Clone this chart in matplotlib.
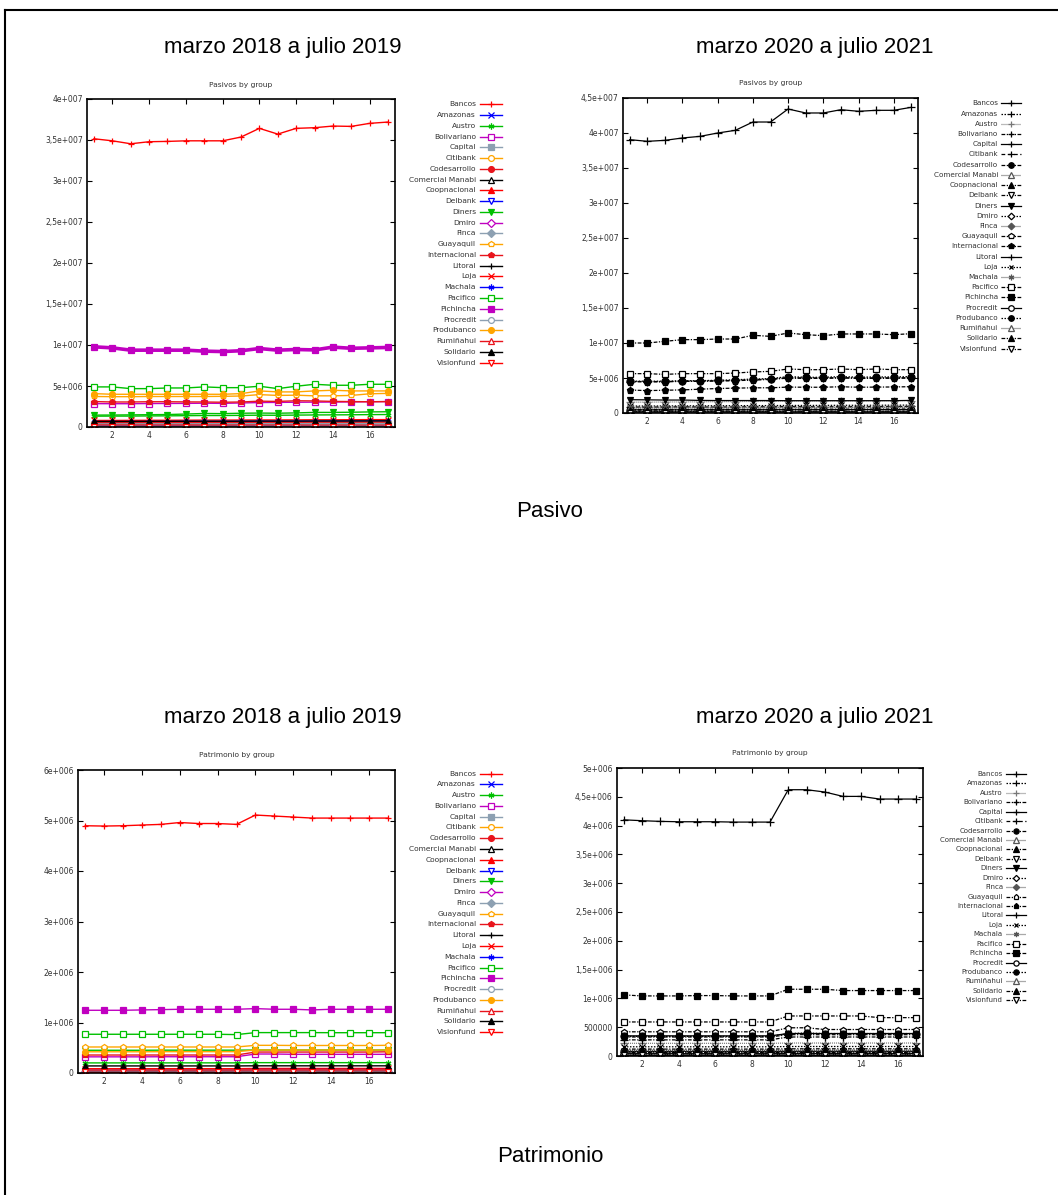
import matplotlib
matplotlib.use("Agg")
import matplotlib.pyplot as plt
from matplotlib.lines import Line2D

W, H = 1058, 1195
x = list(range(1, 18))

banks = ["Bancos", "Amazonas", "Austro", "Bolivariano", "Capital", "Citibank",
         "Codesarrollo", "Comercial Manabi", "Coopnacional", "Delbank", "Diners",
         "Dmiro", "Finca", "Guayaquil", "Internacional", "Litoral", "Loja",
         "Machala", "Pacifico", "Pichincha", "Procredit", "Produbanco",
         "Rumiñahui", "Solidario", "Visionfund"]

# ---- Pasivos, marzo 2018 a julio 2019 (millions) ----
pas18 = [
    [35.15, 34.90, 34.54, 34.79, 34.83, 34.90, 34.90, 34.90, 35.36, 36.42, 35.72, 36.42, 36.50, 36.70, 36.66, 37.03, 37.19],  # Bancos
    [0.17, 0.17, 0.17, 0.17, 0.18, 0.18, 0.18, 0.18, 0.18, 0.19, 0.19, 0.19, 0.19, 0.19, 0.20, 0.20, 0.20],  # Amazonas
    [1.32, 1.33, 1.33, 1.35, 1.36, 1.38, 1.40, 1.40, 1.42, 1.44, 1.43, 1.45, 1.47, 1.48, 1.49, 1.51, 1.52],  # Austro
    [2.85, 2.84, 2.84, 2.86, 2.87, 2.88, 2.90, 2.88, 2.93, 2.98, 3.00, 3.02, 3.03, 3.04, 3.06, 3.08, 3.10],  # Bolivariano
    [0.28, 0.28, 0.28, 0.28, 0.29, 0.29, 0.29, 0.29, 0.30, 0.30, 0.30, 0.31, 0.31, 0.31, 0.31, 0.32, 0.32],  # Capital
    [0.46, 0.45, 0.44, 0.45, 0.45, 0.46, 0.46, 0.45, 0.46, 0.47, 0.46, 0.47, 0.47, 0.48, 0.48, 0.48, 0.49],  # Citibank
    [0.12, 0.12, 0.12, 0.12, 0.12, 0.13, 0.13, 0.13, 0.13, 0.13, 0.13, 0.14, 0.14, 0.14, 0.14, 0.14, 0.14],  # Codesarrollo
    [0.05, 0.05, 0.05, 0.05, 0.05, 0.05, 0.05, 0.05, 0.05, 0.05, 0.05, 0.05, 0.05, 0.05, 0.05, 0.05, 0.05],  # Comercial Manabi
    [0.35, 0.35, 0.35, 0.36, 0.36, 0.36, 0.37, 0.37, 0.37, 0.38, 0.38, 0.38, 0.39, 0.39, 0.39, 0.40, 0.40],  # Coopnacional
    [0.04, 0.04, 0.04, 0.04, 0.04, 0.04, 0.04, 0.04, 0.04, 0.04, 0.04, 0.04, 0.04, 0.04, 0.04, 0.04, 0.04],  # Delbank
    [1.45, 1.46, 1.48, 1.50, 1.52, 1.58, 1.65, 1.63, 1.68, 1.70, 1.68, 1.72, 1.78, 1.78, 1.80, 1.84, 1.86],  # Diners
    [0.02, 0.02, 0.02, 0.02, 0.02, 0.02, 0.02, 0.02, 0.02, 0.02, 0.02, 0.02, 0.02, 0.02, 0.02, 0.02, 0.02],  # Dmiro
    [0.06, 0.06, 0.06, 0.06, 0.06, 0.06, 0.06, 0.06, 0.07, 0.07, 0.07, 0.07, 0.07, 0.07, 0.07, 0.07, 0.07],  # Finca
    [3.72, 3.70, 3.70, 3.72, 3.72, 3.72, 3.72, 3.74, 3.78, 3.95, 3.85, 3.88, 3.80, 3.80, 3.85, 4.05, 4.10],  # Guayaquil
    [3.10, 3.05, 3.05, 3.08, 3.08, 3.06, 3.05, 3.02, 3.05, 3.15, 3.12, 3.20, 3.18, 3.12, 3.10, 3.08, 3.10],  # Internacional
    [0.03, 0.03, 0.03, 0.03, 0.03, 0.03, 0.03, 0.03, 0.03, 0.03, 0.03, 0.03, 0.03, 0.03, 0.03, 0.03, 0.03],  # Litoral
    [0.80, 0.80, 0.81, 0.82, 0.82, 0.83, 0.84, 0.84, 0.85, 0.86, 0.86, 0.87, 0.88, 0.88, 0.89, 0.90, 0.90],  # Loja
    [0.66, 0.66, 0.66, 0.67, 0.67, 0.68, 0.68, 0.68, 0.69, 0.70, 0.70, 0.71, 0.71, 0.72, 0.72, 0.73, 0.73],  # Machala
    [4.89, 4.89, 4.68, 4.68, 4.76, 4.76, 4.89, 4.80, 4.80, 4.97, 4.68, 4.97, 5.21, 5.09, 5.09, 5.21, 5.21],  # Pacifico
    [9.78, 9.65, 9.37, 9.37, 9.37, 9.37, 9.25, 9.20, 9.30, 9.57, 9.37, 9.45, 9.40, 9.74, 9.60, 9.65, 9.70],  # Pichincha
    [0.42, 0.42, 0.42, 0.42, 0.42, 0.43, 0.43, 0.43, 0.43, 0.44, 0.44, 0.44, 0.44, 0.45, 0.45, 0.45, 0.45],  # Procredit
    [4.07, 3.99, 3.99, 3.99, 3.99, 3.99, 3.99, 3.99, 4.07, 4.40, 4.28, 4.28, 4.40, 4.48, 4.40, 4.40, 4.40],  # Produbanco
    [0.55, 0.55, 0.55, 0.56, 0.56, 0.56, 0.57, 0.57, 0.57, 0.58, 0.58, 0.58, 0.59, 0.59, 0.59, 0.60, 0.60],  # Rumiñahui
    [0.68, 0.68, 0.68, 0.69, 0.69, 0.70, 0.70, 0.70, 0.71, 0.72, 0.72, 0.72, 0.73, 0.73, 0.74, 0.74, 0.75],  # Solidario
    [0.03, 0.03, 0.03, 0.03, 0.03, 0.03, 0.03, 0.03, 0.03, 0.03, 0.03, 0.03, 0.03, 0.03, 0.03, 0.03, 0.03],  # Visionfund
]

# ---- Pasivos, marzo 2020 a julio 2021 (millions) ----
pas20 = [
    [39.05, 38.81, 38.95, 39.29, 39.52, 40.00, 40.38, 41.57, 41.57, 43.43, 42.86, 42.86, 43.33, 43.10, 43.24, 43.24, 43.67],  # Bancos
    [0.21, 0.21, 0.21, 0.22, 0.22, 0.22, 0.22, 0.23, 0.23, 0.23, 0.23, 0.24, 0.24, 0.24, 0.24, 0.25, 0.25],  # Amazonas
    [1.55, 1.55, 1.57, 1.58, 1.60, 1.62, 1.63, 1.65, 1.66, 1.70, 1.70, 1.71, 1.72, 1.72, 1.74, 1.75, 1.77],  # Austro
    [4.50, 4.48, 4.48, 4.55, 4.56, 4.60, 4.65, 4.75, 4.85, 5.05, 5.00, 5.00, 5.05, 5.00, 5.02, 5.02, 5.05],  # Bolivariano
    [0.15, 0.15, 0.15, 0.15, 0.15, 0.16, 0.16, 0.16, 0.16, 0.16, 0.17, 0.17, 0.17, 0.17, 0.17, 0.17, 0.17],  # Capital
    [0.85, 0.84, 0.86, 0.88, 0.86, 0.85, 0.87, 0.90, 0.88, 0.92, 0.90, 0.89, 0.91, 0.90, 0.92, 0.93, 0.94],  # Citibank
    [0.15, 0.15, 0.15, 0.15, 0.15, 0.15, 0.15, 0.16, 0.16, 0.16, 0.16, 0.16, 0.16, 0.16, 0.16, 0.16, 0.16],  # Codesarrollo
    [0.06, 0.06, 0.06, 0.06, 0.06, 0.06, 0.06, 0.06, 0.06, 0.06, 0.06, 0.06, 0.06, 0.06, 0.06, 0.06, 0.06],  # Comercial Manabi
    [0.42, 0.42, 0.42, 0.43, 0.43, 0.43, 0.44, 0.44, 0.44, 0.45, 0.45, 0.45, 0.45, 0.46, 0.46, 0.46, 0.46],  # Coopnacional
    [0.04, 0.04, 0.04, 0.04, 0.04, 0.04, 0.04, 0.04, 0.04, 0.04, 0.04, 0.04, 0.04, 0.04, 0.04, 0.04, 0.04],  # Delbank
    [1.90, 1.88, 1.85, 1.85, 1.80, 1.78, 1.78, 1.78, 1.78, 1.76, 1.76, 1.76, 1.76, 1.76, 1.76, 1.76, 1.80],  # Diners
    [0.03, 0.03, 0.03, 0.03, 0.03, 0.03, 0.03, 0.03, 0.03, 0.03, 0.03, 0.03, 0.03, 0.03, 0.03, 0.03, 0.03],  # Dmiro
    [0.07, 0.07, 0.07, 0.07, 0.07, 0.07, 0.07, 0.07, 0.07, 0.08, 0.08, 0.08, 0.08, 0.08, 0.08, 0.08, 0.08],  # Finca
    [4.48, 4.46, 4.46, 4.52, 4.52, 4.58, 4.62, 4.70, 4.80, 4.98, 4.95, 4.95, 5.00, 4.95, 4.95, 4.96, 4.98],  # Guayaquil
    [3.28, 3.20, 3.25, 3.30, 3.40, 3.50, 3.55, 3.60, 3.60, 3.70, 3.68, 3.68, 3.75, 3.68, 3.70, 3.72, 3.76],  # Internacional
    [0.04, 0.04, 0.04, 0.04, 0.04, 0.04, 0.04, 0.04, 0.04, 0.04, 0.04, 0.04, 0.04, 0.04, 0.04, 0.04, 0.04],  # Litoral
    [1.00, 1.00, 1.01, 1.02, 1.03, 1.04, 1.05, 1.06, 1.06, 1.08, 1.08, 1.09, 1.10, 1.10, 1.11, 1.12, 1.13],  # Loja
    [0.80, 0.80, 0.80, 0.81, 0.81, 0.82, 0.82, 0.83, 0.83, 0.84, 0.84, 0.85, 0.85, 0.86, 0.86, 0.87, 0.87],  # Machala
    [5.62, 5.62, 5.52, 5.62, 5.62, 5.62, 5.71, 5.86, 5.95, 6.29, 6.19, 6.19, 6.29, 6.19, 6.29, 6.19, 6.19],  # Pacifico
    [10.00, 10.00, 10.24, 10.48, 10.48, 10.57, 10.57, 11.10, 10.95, 11.43, 11.19, 11.05, 11.29, 11.29, 11.29, 11.19, 11.33],  # Pichincha
    [0.45, 0.45, 0.45, 0.45, 0.46, 0.46, 0.46, 0.46, 0.47, 0.47, 0.47, 0.47, 0.48, 0.48, 0.48, 0.48, 0.49],  # Procredit
    [4.55, 4.55, 4.55, 4.60, 4.62, 4.68, 4.75, 4.85, 4.92, 5.20, 5.10, 5.10, 5.20, 5.12, 5.15, 5.15, 5.20],  # Produbanco
    [0.70, 0.70, 0.70, 0.71, 0.71, 0.72, 0.72, 0.73, 0.73, 0.74, 0.74, 0.75, 0.75, 0.76, 0.76, 0.77, 0.77],  # Rumiñahui
    [0.50, 0.50, 0.50, 0.51, 0.51, 0.52, 0.52, 0.53, 0.53, 0.54, 0.54, 0.55, 0.55, 0.56, 0.56, 0.57, 0.57],  # Solidario
    [0.03, 0.03, 0.03, 0.03, 0.03, 0.03, 0.03, 0.03, 0.03, 0.03, 0.03, 0.03, 0.03, 0.03, 0.03, 0.03, 0.03],  # Visionfund
]

# ---- Patrimonio, marzo 2018 a julio 2019 (millions) ----
pat18 = [
    [4.896, 4.890, 4.896, 4.910, 4.923, 4.960, 4.940, 4.940, 4.923, 5.108, 5.088, 5.068, 5.048, 5.048, 5.048, 5.048, 5.048],  # Bancos
    [0.030, 0.030, 0.030, 0.030, 0.030, 0.030, 0.030, 0.030, 0.030, 0.031, 0.031, 0.031, 0.031, 0.031, 0.031, 0.031, 0.031],  # Amazonas
    [0.200, 0.200, 0.200, 0.200, 0.200, 0.201, 0.201, 0.201, 0.201, 0.205, 0.205, 0.205, 0.205, 0.205, 0.205, 0.205, 0.205],  # Austro
    [0.320, 0.320, 0.320, 0.320, 0.322, 0.322, 0.322, 0.322, 0.322, 0.376, 0.376, 0.370, 0.370, 0.370, 0.370, 0.370, 0.370],  # Bolivariano
    [0.030, 0.030, 0.030, 0.030, 0.030, 0.030, 0.030, 0.030, 0.030, 0.032, 0.032, 0.032, 0.032, 0.032, 0.032, 0.032, 0.032],  # Capital
    [0.050, 0.050, 0.050, 0.050, 0.050, 0.050, 0.050, 0.050, 0.050, 0.052, 0.052, 0.052, 0.052, 0.052, 0.052, 0.052, 0.052],  # Citibank
    [0.020, 0.020, 0.020, 0.020, 0.020, 0.020, 0.020, 0.020, 0.020, 0.020, 0.020, 0.020, 0.020, 0.020, 0.020, 0.020, 0.020],  # Codesarrollo
    [0.015, 0.015, 0.015, 0.015, 0.015, 0.015, 0.015, 0.015, 0.015, 0.015, 0.015, 0.015, 0.015, 0.015, 0.015, 0.015, 0.015],  # Comercial Manabi
    [0.045, 0.045, 0.045, 0.045, 0.045, 0.045, 0.045, 0.045, 0.045, 0.047, 0.047, 0.047, 0.047, 0.047, 0.047, 0.047, 0.047],  # Coopnacional
    [0.012, 0.012, 0.012, 0.012, 0.012, 0.012, 0.012, 0.012, 0.012, 0.012, 0.012, 0.012, 0.012, 0.012, 0.012, 0.012, 0.012],  # Delbank
    [0.450, 0.450, 0.450, 0.450, 0.452, 0.452, 0.452, 0.452, 0.452, 0.455, 0.455, 0.455, 0.455, 0.455, 0.455, 0.455, 0.455],  # Diners
    [0.010, 0.010, 0.010, 0.010, 0.010, 0.010, 0.010, 0.010, 0.010, 0.010, 0.010, 0.010, 0.010, 0.010, 0.010, 0.010, 0.010],  # Dmiro
    [0.020, 0.020, 0.020, 0.020, 0.020, 0.020, 0.020, 0.020, 0.020, 0.021, 0.021, 0.021, 0.021, 0.021, 0.021, 0.021, 0.021],  # Finca
    [0.515, 0.515, 0.515, 0.515, 0.515, 0.515, 0.515, 0.515, 0.515, 0.548, 0.548, 0.545, 0.545, 0.545, 0.545, 0.545, 0.548],  # Guayaquil
    [0.356, 0.356, 0.356, 0.356, 0.356, 0.356, 0.356, 0.356, 0.356, 0.415, 0.415, 0.415, 0.415, 0.415, 0.415, 0.415, 0.420],  # Internacional
    [0.015, 0.015, 0.015, 0.015, 0.015, 0.015, 0.015, 0.015, 0.015, 0.015, 0.015, 0.015, 0.015, 0.015, 0.015, 0.015, 0.015],  # Litoral
    [0.085, 0.085, 0.085, 0.085, 0.085, 0.085, 0.085, 0.085, 0.085, 0.090, 0.090, 0.090, 0.090, 0.090, 0.090, 0.090, 0.090],  # Loja
    [0.065, 0.065, 0.065, 0.065, 0.065, 0.065, 0.065, 0.065, 0.065, 0.068, 0.068, 0.068, 0.068, 0.068, 0.068, 0.068, 0.068],  # Machala
    [0.767, 0.767, 0.767, 0.767, 0.767, 0.767, 0.767, 0.767, 0.760, 0.800, 0.800, 0.800, 0.800, 0.798, 0.798, 0.798, 0.798],  # Pacifico
    [1.242, 1.242, 1.242, 1.249, 1.255, 1.262, 1.262, 1.262, 1.262, 1.275, 1.262, 1.262, 1.249, 1.262, 1.262, 1.262, 1.262],  # Pichincha
    [0.060, 0.060, 0.060, 0.060, 0.060, 0.060, 0.060, 0.060, 0.060, 0.062, 0.062, 0.062, 0.062, 0.062, 0.062, 0.062, 0.062],  # Procredit
    [0.420, 0.420, 0.420, 0.420, 0.422, 0.422, 0.422, 0.422, 0.422, 0.455, 0.455, 0.455, 0.455, 0.455, 0.455, 0.455, 0.455],  # Produbanco
    [0.060, 0.060, 0.060, 0.060, 0.060, 0.060, 0.060, 0.060, 0.060, 0.062, 0.062, 0.062, 0.062, 0.062, 0.062, 0.062, 0.062],  # Rumiñahui
    [0.140, 0.140, 0.140, 0.140, 0.140, 0.140, 0.140, 0.140, 0.140, 0.142, 0.142, 0.142, 0.142, 0.142, 0.142, 0.142, 0.142],  # Solidario
    [0.010, 0.010, 0.010, 0.010, 0.010, 0.010, 0.010, 0.010, 0.010, 0.010, 0.010, 0.010, 0.010, 0.010, 0.010, 0.010, 0.010],  # Visionfund
]

# ---- Patrimonio, marzo 2020 a julio 2021 (millions) ----
pat20 = [
    [4.100, 4.085, 4.073, 4.067, 4.067, 4.067, 4.061, 4.061, 4.061, 4.623, 4.623, 4.583, 4.507, 4.507, 4.461, 4.461, 4.461],  # Bancos
    [0.035, 0.035, 0.035, 0.035, 0.035, 0.035, 0.035, 0.035, 0.035, 0.036, 0.036, 0.036, 0.036, 0.036, 0.036, 0.036, 0.036],  # Amazonas
    [0.220, 0.220, 0.220, 0.220, 0.220, 0.220, 0.220, 0.220, 0.220, 0.225, 0.225, 0.225, 0.225, 0.225, 0.225, 0.225, 0.225],  # Austro
    [0.280, 0.280, 0.280, 0.280, 0.280, 0.280, 0.280, 0.280, 0.280, 0.330, 0.330, 0.330, 0.330, 0.330, 0.330, 0.330, 0.330],  # Bolivariano
    [0.040, 0.040, 0.040, 0.040, 0.040, 0.040, 0.040, 0.040, 0.040, 0.041, 0.041, 0.041, 0.041, 0.041, 0.041, 0.041, 0.041],  # Capital
    [0.070, 0.070, 0.070, 0.070, 0.070, 0.070, 0.070, 0.070, 0.070, 0.072, 0.072, 0.072, 0.072, 0.072, 0.072, 0.072, 0.072],  # Citibank
    [0.030, 0.030, 0.030, 0.030, 0.030, 0.030, 0.030, 0.030, 0.030, 0.030, 0.030, 0.030, 0.030, 0.030, 0.030, 0.030, 0.030],  # Codesarrollo
    [0.015, 0.015, 0.015, 0.015, 0.015, 0.015, 0.015, 0.015, 0.015, 0.015, 0.015, 0.015, 0.015, 0.015, 0.015, 0.015, 0.015],  # Comercial Manabi
    [0.060, 0.060, 0.060, 0.060, 0.060, 0.060, 0.060, 0.060, 0.060, 0.062, 0.062, 0.062, 0.062, 0.062, 0.062, 0.062, 0.062],  # Coopnacional
    [0.012, 0.012, 0.012, 0.012, 0.012, 0.012, 0.012, 0.012, 0.012, 0.012, 0.012, 0.012, 0.012, 0.012, 0.012, 0.012, 0.012],  # Delbank
    [0.350, 0.350, 0.350, 0.350, 0.350, 0.350, 0.350, 0.350, 0.350, 0.390, 0.390, 0.390, 0.390, 0.390, 0.390, 0.390, 0.390],  # Diners
    [0.010, 0.010, 0.010, 0.010, 0.010, 0.010, 0.010, 0.010, 0.010, 0.010, 0.010, 0.010, 0.010, 0.010, 0.010, 0.010, 0.010],  # Dmiro
    [0.025, 0.025, 0.025, 0.025, 0.025, 0.025, 0.025, 0.025, 0.025, 0.026, 0.026, 0.026, 0.026, 0.026, 0.026, 0.026, 0.026],  # Finca
    [0.420, 0.420, 0.420, 0.420, 0.420, 0.420, 0.420, 0.420, 0.420, 0.490, 0.490, 0.460, 0.460, 0.460, 0.460, 0.460, 0.460],  # Guayaquil
    [0.330, 0.330, 0.330, 0.330, 0.330, 0.330, 0.330, 0.330, 0.330, 0.370, 0.370, 0.370, 0.370, 0.370, 0.370, 0.370, 0.370],  # Internacional
    [0.020, 0.020, 0.020, 0.020, 0.020, 0.020, 0.020, 0.020, 0.020, 0.020, 0.020, 0.020, 0.020, 0.020, 0.020, 0.020, 0.020],  # Litoral
    [0.160, 0.160, 0.160, 0.160, 0.160, 0.160, 0.160, 0.160, 0.160, 0.165, 0.165, 0.165, 0.165, 0.165, 0.165, 0.165, 0.165],  # Loja
    [0.100, 0.100, 0.100, 0.100, 0.100, 0.100, 0.100, 0.100, 0.100, 0.102, 0.102, 0.102, 0.102, 0.102, 0.102, 0.102, 0.102],  # Machala
    [0.591, 0.591, 0.591, 0.591, 0.591, 0.591, 0.591, 0.591, 0.591, 0.695, 0.695, 0.695, 0.695, 0.695, 0.666, 0.666, 0.666],  # Pacifico
    [1.060, 1.043, 1.043, 1.043, 1.049, 1.049, 1.043, 1.043, 1.043, 1.159, 1.159, 1.159, 1.136, 1.136, 1.136, 1.136, 1.136],  # Pichincha
    [0.080, 0.080, 0.080, 0.080, 0.080, 0.080, 0.080, 0.080, 0.080, 0.082, 0.082, 0.082, 0.082, 0.082, 0.082, 0.082, 0.082],  # Procredit
    [0.340, 0.340, 0.340, 0.340, 0.340, 0.340, 0.340, 0.340, 0.340, 0.390, 0.400, 0.390, 0.390, 0.390, 0.390, 0.390, 0.390],  # Produbanco
    [0.090, 0.090, 0.090, 0.090, 0.090, 0.090, 0.090, 0.090, 0.090, 0.092, 0.092, 0.092, 0.092, 0.092, 0.092, 0.092, 0.092],  # Rumiñahui
    [0.120, 0.120, 0.120, 0.120, 0.120, 0.120, 0.120, 0.120, 0.120, 0.125, 0.125, 0.125, 0.125, 0.125, 0.125, 0.125, 0.125],  # Solidario
    [0.010, 0.010, 0.010, 0.010, 0.010, 0.010, 0.010, 0.010, 0.010, 0.010, 0.010, 0.010, 0.010, 0.010, 0.010, 0.010, 0.010],  # Visionfund
]

# tick labels
pas18_ticks = ["0", "5e+006", "1e+007", "1,5e+007", "2e+007", "2,5e+007", "3e+007", "3,5e+007", "4e+007"]
pas20_ticks = ["0", "5e+006", "1e+007", "1,5e+007", "2e+007", "2,5e+007", "3e+007", "3,5e+007", "4e+007", "4,5e+007"]
pat18_ticks = ["0", "1e+006", "2e+006", "3e+006", "4e+006", "5e+006", "6e+006"]
pat20_ticks = ["0", "500000", "1e+006", "1,5e+006", "2e+006", "2,5e+006", "3e+006", "3,5e+006", "4e+006", "4,5e+006", "5e+006"]
x_ticks = [2, 4, 6, 8, 10, 12, 14, 16]

# ---------------- styles ----------------
col_cycle = ["#ff0000", "#0000ff", "#00c000", "#c000c0", "#8da0b2", "#ffa500", "#e8141c", "#000000"]
ast = (6, 2, 0)
mk_cycle = ["+", "x", ast, "s", "s", "o", "o", "^", "^", "v", "v", "D", "D", "p", "p",
            "+", "x", ast, "s", "s", "o", "o", "^", "^", "v"]
fill_cycle = [True, True, True, False, True, False, True, False, True, False, True, False, True, False, True,
              True, True, True, False, True, False, True, False, True, False]

mono_mk = ["+", "+", "+", "+", "+", "+", "o", "^", "^", "v", "v", "D", "D", "p", "p",
           "+", "x", ast, "s", "s", "o", "o", "^", "^", "v"]
mono_fill = [True, True, True, True, True, True, True, False, True, False, True, False, True, False, True,
             True, True, True, False, True, False, True, False, True, False]
SOL = "-"
DOT = (0, (1.2, 1.2))
FDOT = (0, (0.8, 0.8))
DDOT = (0, (3, 1.2, 1, 1.2))
DASH = (0, (3, 2))
mono_ls = [SOL, DOT, FDOT, DDOT, SOL, DASH, DDOT, FDOT, DDOT, DDOT, SOL, DOT, FDOT, DDOT, DDOT,
           SOL, DOT, FDOT, DDOT, DDOT, SOL, DOT, FDOT, DDOT, DDOT]
mono_col = ["#000000", "#000000", "#777777", "#000000", "#000000", "#000000", "#000000", "#555555",
            "#000000", "#000000", "#000000", "#000000", "#555555", "#000000", "#000000",
            "#000000", "#000000", "#555555", "#000000", "#000000", "#000000", "#000000", "#555555",
            "#000000", "#000000"]


def color_style(i, scale=1.0):
    c = col_cycle[i % 8]
    fc = c if fill_cycle[i] else "white"
    ms = 4.2 if mk_cycle[i] not in ("D",) else 3.6
    return dict(color=c, ls="-", lw=1.0, marker=mk_cycle[i], ms=ms * scale, mfc=fc, mec=c, mew=0.9)


def mono_style(i, scale=1.0):
    c = mono_col[i]
    fc = c if mono_fill[i] else "white"
    ms = 5.0 if mono_mk[i] not in ("D", "+", "x") else 4.2
    if mono_mk[i] == "+":
        ms = 5.5
    return dict(color=c, ls=mono_ls[i], lw=0.9, marker=mono_mk[i], ms=ms * scale, mfc=fc, mec=c, mew=0.9)


plt.rcParams["font.family"] = ["DejaVu Sans"]
fig = plt.figure(figsize=(W / 100, H / 100), dpi=100)


def fx(px):
    return px / W


def fy(py):
    return 1 - py / H


def make_axes(left, right, top, bottom):
    return fig.add_axes([fx(left), fy(bottom), fx(right - left), (bottom - top) / H])


def setup(ax, title, ymax, ystep, ylabels):
    ax.set_xlim(0.62, 17.38)
    ax.set_ylim(0, ymax)
    ax.set_xticks(x_ticks)
    ax.set_yticks([k * ystep for k in range(len(ylabels))])
    ax.set_yticklabels(ylabels)
    ax.tick_params(direction="in", top=True, right=True, length=3.5, width=0.8,
                   labelsize=5.5, labelcolor="#333333", pad=3)
    for s in ax.spines.values():
        s.set_linewidth(1.2)
    ax.set_title(title, fontsize=5.4, color="#333333", pad=9)


def draw_panel(ax, data, style_fn, wide_idx=None):
    for i, name in enumerate(banks):
        st = style_fn(i)
        if wide_idx is not None and i == wide_idx:
            st["lw"] = 2.6
        ax.plot(x, [v * 1e6 for v in data[i]], **st)


def draw_legend(text_x, y0, dy, lx0, lx1, style_fn, fs, scale):
    for i, name in enumerate(banks):
        yy = y0 + i * dy
        fig.text(fx(text_x), fy(yy), name, ha="right", va="center", fontsize=fs, color="#333333")
        st = style_fn(i, scale)
        ln = Line2D([fx(lx0), fx((lx0 + lx1) / 2), fx(lx1)], [fy(yy)] * 3,
                    transform=fig.transFigure, markevery=[1], **st)
        fig.add_artist(ln)


# Panel A
axA = make_axes(87, 395, 99, 427)
draw_panel(axA, pas18, color_style, wide_idx=19)
setup(axA, "Pasivos by group", 4e7, 5e6, pas18_ticks)
draw_legend(476, 104.3, 10.76, 480, 502, color_style, 5.4, 1.0)

# Panel B
axB = make_axes(623, 918, 98, 413)
draw_panel(axB, pas20, mono_style)
setup(axB, "Pasivos by group", 4.5e7, 5e6, pas20_ticks)
draw_legend(998, 103.3, 10.22, 1001, 1021, mono_style, 5.2, 0.8)

# Panel C
axC = make_axes(78, 395, 770, 1073)
draw_panel(axC, pat18, color_style)
setup(axC, "Patrimonio by group", 6e6, 1e6, pat18_ticks)
draw_legend(476, 773.5, 10.78, 480, 502, color_style, 5.4, 1.0)

# Panel D
axD = make_axes(617, 923, 768, 1056)
draw_panel(axD, pat20, mono_style)
setup(axD, "Patrimonio by group", 5e6, 5e5, pat20_ticks)
draw_legend(1003, 774, 9.43, 1006, 1026, mono_style, 5.0, 0.75)

# headings
big = dict(fontsize=16, family=["Liberation Sans", "DejaVu Sans"], ha="center", va="center", color="black")
fig.text(fx(283), fy(47), "marzo 2018 a julio 2019", **big)
fig.text(fx(815), fy(47), "marzo 2020 a julio 2021", **big)
fig.text(fx(283), fy(717), "marzo 2018 a julio 2019", **big)
fig.text(fx(815), fy(717), "marzo 2020 a julio 2021", **big)
fig.text(fx(550), fy(512), "Pasivo", **big)
fig.text(fx(550), fy(1157), "Patrimonio", **big)

# outer frame
fig.add_artist(Line2D([fx(5), fx(W + 5)], [fy(10), fy(10)], transform=fig.transFigure, color="black", lw=1.5))
fig.add_artist(Line2D([fx(5), fx(5)], [fy(10), fy(H + 5)], transform=fig.transFigure, color="black", lw=1.5))

fig.savefig("out.png", dpi=100)
